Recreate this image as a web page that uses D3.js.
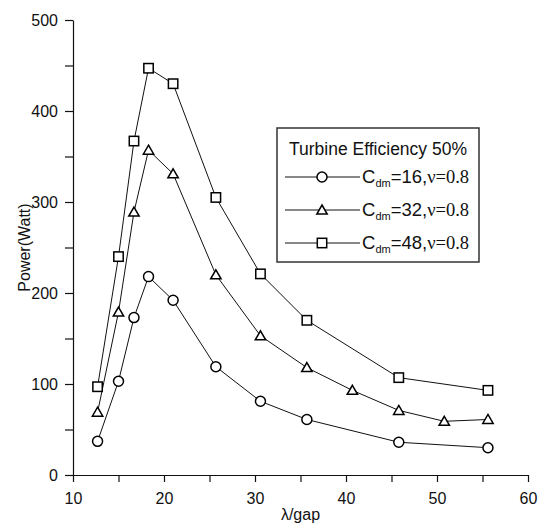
<!DOCTYPE html>
<html>
<head>
<meta charset="utf-8">
<script src="https://cdn.jsdelivr.net/npm/d3@7"></script>
<style>
  body { margin: 0; background: #fff; }
  svg text { font-family: "Liberation Sans", Arial, sans-serif; fill: #111; }
  svg tspan.serif { font-family: "Liberation Serif", "Times New Roman", serif; }
</style>
</head>
<body>
<svg id="chart" width="549" height="530"></svg>
<script>
// data
const xShort = [12.7, 15, 16.7, 18.3, 21, 25.7, 30.6, 35.7, 45.8, 55.6];
const xLong = [12.7, 15, 16.7, 18.3, 21, 25.7, 30.6, 35.7, 40.7, 45.8, 50.8, 55.6];
const power16 = [37, 103, 173, 218, 192, 119, 81, 61, 36, 30];
const power32 = [69, 179, 289, 357, 331, 220, 153, 118, 93, 71, 59, 61];
const power48 = [97, 240, 367, 447, 430, 305, 221, 170, 107, 93];
const xTicks = [10, 15, 20, 25, 30, 35, 40, 45, 50, 55, 60];
const yTicks = [0, 50, 100, 150, 200, 250, 300, 350, 400, 450, 500];
const legendTitle = "Turbine Efficiency 50%";
const legendCdm = ["16", "32", "48"];

const series = [
  { xs: xShort, ys: power16, shape: "circle", cdm: legendCdm[0] },
  { xs: xLong, ys: power32, shape: "triangle", cdm: legendCdm[1] },
  { xs: xShort, ys: power48, shape: "square", cdm: legendCdm[2] }
];

const svg = d3.select("#chart");
const margin = { top: 20, left: 73, width: 455, height: 455 };

const x = d3.scaleLinear().domain([10, 60]).range([margin.left, margin.left + margin.width]);
const y = d3.scaleLinear().domain([0, 500]).range([margin.top + margin.height, margin.top]);

// axes
const xAxis = svg.append("g")
  .attr("transform", `translate(0,${y(0)})`)
  .call(d3.axisBottom(x).tickValues(xTicks).tickSize(7).tickSizeOuter(0).tickPadding(11)
    .tickFormat(d => d % 10 === 0 ? d : ""));
const yAxis = svg.append("g")
  .attr("transform", `translate(${x(10)},0)`)
  .call(d3.axisLeft(y).tickValues(yTicks).tickSize(8).tickSizeOuter(0).tickPadding(7)
    .tickFormat(d => d % 100 === 0 ? d : ""));

[xAxis, yAxis].forEach(a => {
  a.selectAll("path, line").attr("stroke", "#111").attr("stroke-width", 1.2);
  a.selectAll("text").style("font-size", "16px").attr("fill", "#111");
});

svg.append("text")
  .attr("x", (x(10) + x(60)) / 2)
  .attr("y", 520)
  .attr("text-anchor", "middle")
  .style("font-size", "16px")
  .text("λ/gap");

svg.append("text")
  .attr("transform", `translate(30,${(y(0) + y(500)) / 2}) rotate(-90)`)
  .attr("text-anchor", "middle")
  .style("font-size", "16px")
  .text("Power(Watt)");

// markers
function drawMarker(sel, shape) {
  if (shape === "circle") {
    sel.append("circle").attr("r", 5);
  } else if (shape === "triangle") {
    sel.append("path").attr("d", "M0,-5L5.2,4L-5.2,4Z");
  } else {
    sel.append("rect").attr("x", -4.7).attr("y", -4.7).attr("width", 9.4).attr("height", 9.4);
  }
  sel.selectAll("*").attr("fill", "#fff").attr("stroke", "#000").attr("stroke-width", 1.5);
}

const line = d3.line();

series.forEach(s => {
  const pts = s.xs.map((v, i) => [x(v), y(s.ys[i])]);
  svg.append("path")
    .attr("d", line(pts))
    .attr("fill", "none")
    .attr("stroke", "#111")
    .attr("stroke-width", 1);
  svg.append("g").selectAll("g")
    .data(pts)
    .enter().append("g")
    .attr("transform", d => `translate(${d[0]},${d[1]})`)
    .each(function () { drawMarker(d3.select(this), s.shape); });
});

// legend
const legend = svg.append("g");
legend.append("rect")
  .attr("x", 277).attr("y", 128).attr("width", 202).attr("height", 134)
  .attr("fill", "#fff").attr("stroke", "#333").attr("stroke-width", 1.5);
legend.append("text")
  .attr("x", 378).attr("y", 155)
  .attr("text-anchor", "middle")
  .style("font-size", "17.5px")
  .text(legendTitle);

series.forEach((s, i) => {
  const ry = 177 + i * 33;
  legend.append("line")
    .attr("x1", 285).attr("x2", 360).attr("y1", ry).attr("y2", ry)
    .attr("stroke", "#111").attr("stroke-width", 1);
  const m = legend.append("g").attr("transform", `translate(322,${ry})`);
  drawMarker(m, s.shape);
  const t = legend.append("text")
    .attr("x", 362).attr("y", ry + 6)
    .style("font-size", "18.5px");
  t.append("tspan").text("C");
  t.append("tspan").attr("dy", 4).style("font-size", "11px").text("dm");
  t.append("tspan").attr("dy", -4).text(`=${s.cdm},`);
  t.append("tspan").attr("class", "serif").text("ν=0.8");
});
</script>
</body>
</html>
